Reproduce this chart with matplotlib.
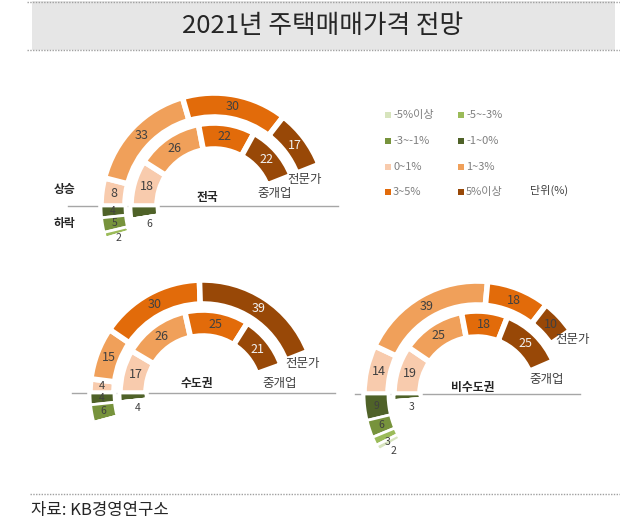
import numpy as np
import matplotlib.pyplot as plt
from matplotlib.patches import Rectangle

plt.rcParams['font.family'] = ['Noto Sans CJK KR', 'DejaVu Sans']

# Categories (legend order)
categories = ["-5%이상", "-5~-3%", "-3~-1%", "-1~0%", "0~1%", "1~3%", "3~5%", "5%이상"]
cat_colors = {
    "-5%이상": "#d7e4bd",
    "-5~-3%": "#9bbb59",
    "-3~-1%": "#77933c",
    "-1~0%": "#4f6228",
    "0~1%": "#f8cbad",
    "1~3%": "#f0a05a",
    "3~5%": "#e26b0a",
    "5%이상": "#984807",
}

up_cats = ["0~1%", "1~3%", "3~5%", "5%이상"]
down_cats = ["-1~0%", "-3~-1%", "-5~-3%", "-5%이상"]

# 전국
nat_expert_up = [8, 33, 30, 17]
nat_expert_down = [4, 5, 2, 0]
nat_broker_up = [18, 26, 22, 22]
nat_broker_down = [6, 0, 0, 0]

# 수도권
cap_expert_up = [4, 15, 30, 39]
cap_expert_down = [4, 6, 0, 0]
cap_broker_up = [17, 26, 25, 21]
cap_broker_down = [4, 0, 0, 0]

# 비수도권
reg_expert_up = [14, 39, 18, 10]
reg_expert_down = [9, 6, 3, 2]
reg_broker_up = [19, 25, 18, 25]
reg_broker_down = [3, 0, 0, 0]

W, H = 620, 524
fig = plt.figure(figsize=(6.2, 5.24), dpi=100)
ax = fig.add_axes([0, 0, 1, 1])


def Y(y):
    return H - y


OUT_R = (89, 113)
IN_R = (57, 83)
UP_DEG = 1.8     # degrees per % on the rise side
DOWN_DEG = 1.5   # degrees per % on the fall side
TXT = "#404040"


def ring(cx, cy, up, down, r0, r1):
    center = (cx, Y(cy))
    width = r1 - r0
    rm = (r0 + r1) / 2
    # rise: from 180 deg clockwise over the top (hidden filler closes the pie)
    total_up = 180 / UP_DEG * 2
    wedges, _ = ax.pie(up + [total_up - sum(up)], radius=r1, center=center, startangle=180,
                       counterclock=False, colors=[cat_colors[c] for c in up_cats] + ["none"],
                       wedgeprops=dict(width=width, edgecolor="white", linewidth=4), frame=True)
    wedges[-1].set_visible(False)
    ang = 180.0
    for v, c in zip(up, up_cats):
        if v <= 0:
            continue
        mid = np.radians(ang - v * UP_DEG / 2)
        col = "#f2f2f2" if (c == "5%이상" and v > 15) else TXT
        fs = 9
        if v < 6:
            mid = np.radians(176.0)
            fs = 8
        ax.text(cx + rm * np.cos(mid), Y(cy) + rm * np.sin(mid), str(v), ha="center",
                va="center", fontsize=fs, color=col)
        ang -= v * UP_DEG
    # fall: from 180 deg counter-clockwise below the axis
    total_down = 360 / DOWN_DEG
    wedges, _ = ax.pie(down + [total_down - sum(down)], radius=r1, center=center, startangle=180,
                       counterclock=True, colors=[cat_colors[c] for c in down_cats] + ["none"],
                       wedgeprops=dict(width=width, edgecolor="white", linewidth=2), frame=True)
    wedges[-1].set_visible(False)
    ang = 180.0
    extra = 3.5
    for v, c in zip(down, down_cats):
        if v <= 0:
            continue
        mid = ang + v * DOWN_DEG / 2
        r = rm
        if r0 < 80:
            r = r0 + 10
            mid = ang + v * DOWN_DEG + 7
        elif v < 4:
            mid = mid + extra
            extra += 2.5
        mid = np.radians(mid)
        ax.text(cx + r * np.cos(mid), Y(cy) + r * np.sin(mid), str(v), ha="center",
                va="center", fontsize=7.5, color=TXT)
        ang += v * DOWN_DEG


def chart(cx, cy, expert_up, expert_down, broker_up, broker_down, name,
          line_x, name_xy, exp_xy, brk_xy):
    ax.plot(line_x, [Y(cy), Y(cy)], color="#a6a6a6", lw=1, zorder=0)
    ring(cx, cy, expert_up, expert_down, *OUT_R)
    ring(cx, cy, broker_up, broker_down, *IN_R)
    ax.text(name_xy[0], Y(name_xy[1]), name, ha="center", va="center", fontsize=8.5,
            fontweight="bold", color="#262626")
    ax.text(exp_xy[0], Y(exp_xy[1]), "전문가", ha="center", va="center", fontsize=9, color=TXT)
    ax.text(brk_xy[0], Y(brk_xy[1]), "중개업", ha="center", va="center", fontsize=9, color=TXT)


chart(214, 206, nat_expert_up, nat_expert_down, nat_broker_up, nat_broker_down, "전국",
      [68, 338], (207, 197), (305, 180), (275, 194))
chart(203, 393, cap_expert_up, cap_expert_down, cap_broker_up, cap_broker_down, "수도권",
      [72, 335], (197, 383), (303, 364), (280, 383))
chart(477, 394, reg_expert_up, reg_expert_down, reg_broker_up, reg_broker_down, "비수도권",
      [355, 580], (473, 388), (573, 340), (547, 380))

ax.text(65, Y(190), "상승", ha="center", va="center", fontsize=8.5, fontweight="bold", color="#262626")
ax.text(65, Y(224), "하락", ha="center", va="center", fontsize=8.5, fontweight="bold", color="#262626")

# legend
leg_x = [388, 461]
leg_y = [115, 141, 167, 192]
for i, c in enumerate(categories):
    lx = leg_x[i % 2]
    ly = leg_y[i // 2]
    ax.add_patch(Rectangle((lx - 3, Y(ly) - 3), 6, 6, facecolor=cat_colors[c], edgecolor="none"))
    ax.text(lx + 5, Y(ly), c, ha="left", va="center", fontsize=8, color="#7f7f7f")
ax.text(549, Y(190), "단위(%)", ha="center", va="center", fontsize=8, color="#404040")

# title box
ax.add_patch(Rectangle((32, Y(50)), 583, 49, facecolor="#e6e6e6", edgecolor="none"))
ax.plot([27, 620], [Y(1.5), Y(1.5)], color="#a0a0a0", lw=1, ls=(0, (1, 1)))
ax.plot([27, 620], [Y(50), Y(50)], color="#a0a0a0", lw=1, ls=(0, (1, 1)))
ax.text(323, Y(26), "2021년 주택매매가격 전망", ha="center", va="center", fontsize=18.5,
        color="#262626")

# source
ax.plot([30, 620], [Y(494), Y(494)], color="#a0a0a0", lw=1, ls=(0, (1, 1)))
ax.text(31, Y(510), "자료: KB경영연구소", ha="left", va="center", fontsize=12, color="#262626")

ax.set_xlim(0, W)
ax.set_ylim(0, H)
ax.set_aspect("equal")
ax.axis("off")

fig.savefig("out.png", dpi=100)
